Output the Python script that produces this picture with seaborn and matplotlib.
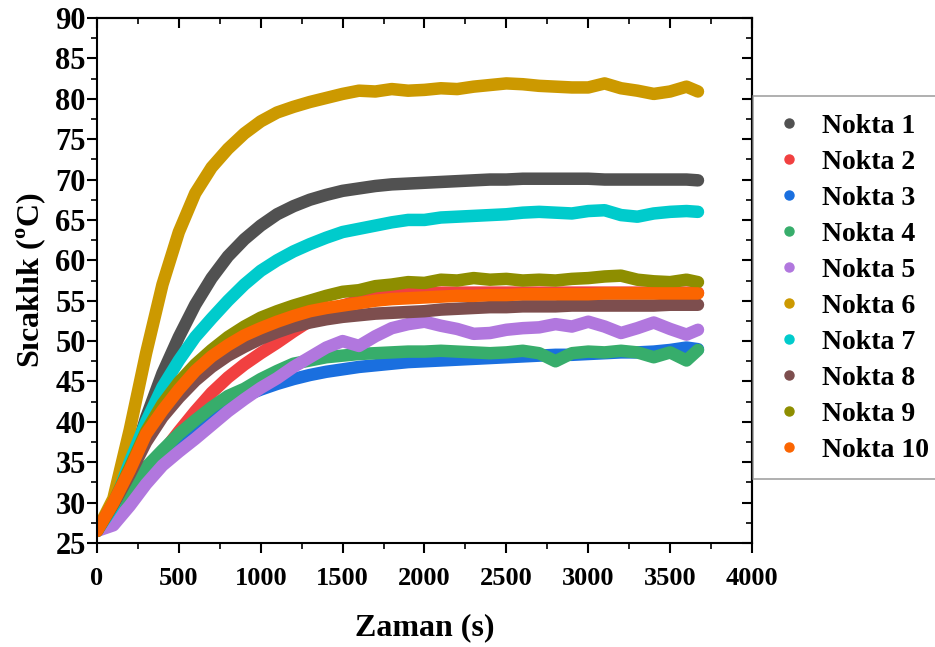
#!/usr/bin/env python3
# -*- coding: utf-8 -*-
"""
Sicaklik - zaman egrileri, 10 olcum noktasi (Nokta 1..10)
"""
import matplotlib
matplotlib.use('Agg')
import matplotlib.pyplot as plt
from matplotlib.lines import Line2D
from matplotlib.ticker import MultipleLocator
import seaborn as sns

# time axis (s), shared by all points
TIME = [0, 100, 200, 300, 400, 500, 600, 700, 800, 900,
        1000, 1100, 1200, 1300, 1400, 1500, 1600, 1700, 1800, 1900,
        2000, 2100, 2200, 2300, 2400, 2500, 2600, 2700, 2800, 2900,
        3000, 3100, 3200, 3300, 3400, 3500, 3600, 3670]

NOKTA_1 = [26.5, 29.0, 34.0, 40.5, 46.0, 50.5, 54.5, 57.8, 60.5, 62.6,
           64.3, 65.7, 66.7, 67.5, 68.1, 68.6, 68.9, 69.2, 69.4, 69.5,
           69.6, 69.7, 69.8, 69.9, 70.0, 70.0, 70.1, 70.1, 70.1, 70.1,
           70.1, 70.0, 70.0, 70.0, 70.0, 70.0, 70.0, 69.9]
NOKTA_2 = [26.5, 28.5, 31.0, 33.5, 36.2, 38.8, 41.3, 43.6, 45.5, 47.1,
           48.5, 49.8, 51.2, 52.5, 53.6, 54.4, 55.0, 55.4, 55.7, 55.8,
           55.9, 56.0, 56.0, 56.0, 56.0, 56.0, 56.0, 56.0, 56.0, 56.0,
           56.0, 56.0, 56.0, 56.0, 56.0, 56.0, 56.0, 56.0]
NOKTA_3 = [26.5, 28.5, 31.0, 33.5, 35.7, 37.6, 39.3, 40.8, 42.1, 43.2,
           44.0, 44.7, 45.3, 45.8, 46.2, 46.5, 46.8, 47.0, 47.2, 47.4,
           47.5, 47.6, 47.7, 47.8, 47.9, 48.0, 48.1, 48.2, 48.3, 48.3,
           48.4, 48.5, 48.6, 48.6, 48.7, 48.9, 49.2, 49.0]
NOKTA_4 = [26.5, 29.0, 31.8, 34.4, 36.5, 38.5, 40.2, 41.8, 43.2, 44.1,
           45.3, 46.3, 47.2, 47.6, 48.0, 48.2, 48.4, 48.5, 48.6, 48.7,
           48.7, 48.8, 48.7, 48.6, 48.5, 48.6, 48.8, 48.5, 47.5, 48.5,
           48.7, 48.6, 48.8, 48.6, 48.0, 48.6, 47.6, 48.9]
NOKTA_5 = [26.5, 27.2, 29.6, 32.3, 34.6, 36.3, 37.9, 39.6, 41.3, 42.8,
           44.2, 45.4, 46.8, 48.0, 49.2, 50.0, 49.4, 50.6, 51.6, 52.1,
           52.4, 51.9, 51.5, 50.9, 51.0, 51.4, 51.6, 51.7, 52.1, 51.8,
           52.4, 51.8, 51.0, 51.6, 52.3, 51.5, 50.8, 51.4]
NOKTA_6 = [26.5, 30.5, 39.0, 48.5, 57.0, 63.5, 68.3, 71.5, 73.8, 75.7,
           77.2, 78.3, 79.0, 79.6, 80.1, 80.6, 81.0, 80.9, 81.2, 81.0,
           81.1, 81.3, 81.2, 81.5, 81.7, 81.9, 81.8, 81.6, 81.5, 81.4,
           81.4, 81.9, 81.3, 81.0, 80.6, 80.9, 81.5, 80.9]
NOKTA_7 = [26.5, 29.5, 35.0, 40.0, 44.3, 47.6, 50.5, 52.8, 55.0, 57.0,
           58.7, 60.0, 61.1, 62.0, 62.8, 63.5, 63.9, 64.3, 64.7, 65.0,
           65.0, 65.3, 65.4, 65.5, 65.6, 65.7, 65.9, 66.0, 65.9, 65.8,
           66.1, 66.2, 65.6, 65.4, 65.8, 66.0, 66.1, 66.0]
NOKTA_8 = [26.5, 29.8, 33.5, 37.5, 40.6, 43.0, 45.1, 46.8, 48.2, 49.3,
           50.3, 51.1, 51.8, 52.3, 52.7, 53.0, 53.2, 53.4, 53.5, 53.6,
           53.7, 53.9, 54.0, 54.1, 54.2, 54.2, 54.3, 54.3, 54.3, 54.4,
           54.4, 54.4, 54.4, 54.4, 54.4, 54.5, 54.5, 54.5]
NOKTA_9 = [26.5, 30.0, 34.3, 38.8, 42.2, 44.9, 47.1, 48.9, 50.5, 51.8,
           52.9, 53.7, 54.4, 55.0, 55.6, 56.1, 56.3, 56.8, 57.0, 57.3,
           57.2, 57.6, 57.5, 57.8, 57.6, 57.7, 57.5, 57.6, 57.5, 57.7,
           57.8, 58.0, 58.1, 57.6, 57.4, 57.3, 57.6, 57.3]
NOKTA_10 = [26.5, 30.0, 34.0, 38.5, 41.4, 44.0, 46.3, 48.1, 49.5, 50.7,
            51.6, 52.4, 53.1, 53.7, 54.1, 54.4, 54.7, 55.0, 55.2, 55.3,
            55.4, 55.5, 55.6, 55.6, 55.7, 55.7, 55.8, 55.8, 55.8, 55.8,
            55.8, 55.9, 55.9, 55.9, 55.9, 55.9, 55.9, 55.9]

LABELS = ['Nokta 1', 'Nokta 2', 'Nokta 3', 'Nokta 4', 'Nokta 5',
          'Nokta 6', 'Nokta 7', 'Nokta 8', 'Nokta 9', 'Nokta 10']
SERIES = [NOKTA_1, NOKTA_2, NOKTA_3, NOKTA_4, NOKTA_5,
          NOKTA_6, NOKTA_7, NOKTA_8, NOKTA_9, NOKTA_10]
# Origin default palette
COLORS = ['#515151', '#F14040', '#1A6FDF', '#37AD6B', '#B177DE',
          '#CC9900', '#00CBCC', '#7D4E4E', '#8E8E00', '#FB6501']


def style_axes(ax):
    ''' Origin-like frame: outward ticks left/bottom, inward mirrored ticks '''
    ax.set_xlim(0, 4000)
    ax.set_ylim(25, 90)
    ax.xaxis.set_major_locator(MultipleLocator(500))
    ax.xaxis.set_minor_locator(MultipleLocator(250))
    ax.yaxis.set_major_locator(MultipleLocator(5))
    ax.yaxis.set_minor_locator(MultipleLocator(2.5))
    ax.tick_params(which='major', direction='out', length=7, width=1.5,
                   colors='black')
    ax.tick_params(which='minor', direction='out', length=4.5, width=1.2,
                   colors='black')
    ax.tick_params(axis='x', which='major', labelsize=19, pad=10)
    ax.tick_params(axis='y', which='major', labelsize=22, pad=1)
    for sp in ax.spines.values():
        sp.set_visible(True)
        sp.set_linewidth(1.5)
        sp.set_color('black')

    top = ax.secondary_xaxis('top')
    right = ax.secondary_yaxis('right')
    for sec in (top, right):
        sec.tick_params(which='major', direction='in', length=7, width=1.5,
                        colors='black')
        sec.tick_params(which='minor', direction='in', length=4.5, width=1.2,
                        colors='black')
    top.xaxis.set_major_locator(MultipleLocator(500))
    top.xaxis.set_minor_locator(MultipleLocator(250))
    right.yaxis.set_major_locator(MultipleLocator(5))
    right.yaxis.set_minor_locator(MultipleLocator(2.5))
    top.set_xticklabels([])
    right.set_yticklabels([])
    top.spines['top'].set_linewidth(1.5)
    right.spines['right'].set_linewidth(1.5)


sns.set_style('ticks')
plt.rcParams['font.family'] = ['Liberation Serif', 'DejaVu Serif']
plt.rcParams['font.weight'] = 'bold'
plt.rcParams['text.color'] = 'black'
plt.rcParams['axes.labelcolor'] = 'black'
plt.rcParams['mathtext.fontset'] = 'custom'
plt.rcParams['mathtext.rm'] = 'Liberation Serif:bold'
plt.rcParams['mathtext.bf'] = 'Liberation Serif:bold'

fig = plt.figure(figsize=(9.35, 6.47), dpi=100)
ax = fig.add_axes([0.1037, 0.1607, 0.7006, 0.8115])

for vals, col in zip(SERIES, COLORS):
    sns.lineplot(x=TIME, y=vals, color=col, linewidth=9,
                 estimator=None, sort=False, ax=ax)
for ln in ax.lines:
    ln.set_solid_capstyle('round')
    ln.set_solid_joinstyle('round')

style_axes(ax)
ax.set_xlabel('Zaman (s)', fontsize=23, fontweight='bold', labelpad=17)
ax.set_ylabel(r'Sıcaklık ($^{\rm o}$C)', fontsize=23, fontweight='bold',
              labelpad=5)

handles = [Line2D([], [], marker='o', linestyle='none', markersize=6.5,
                  color=c) for c in COLORS]
leg = fig.legend(handles, LABELS, loc='upper left',
                 bbox_to_anchor=(0.805, 0.851), fontsize=20,
                 frameon=True, fancybox=False, edgecolor='#8a8a8a',
                 borderpad=0.6, labelspacing=0.38, handletextpad=0.45,
                 handlelength=1.45, borderaxespad=0)
leg.get_frame().set_linewidth(1.2)

fig.savefig('out.png', dpi=100)
